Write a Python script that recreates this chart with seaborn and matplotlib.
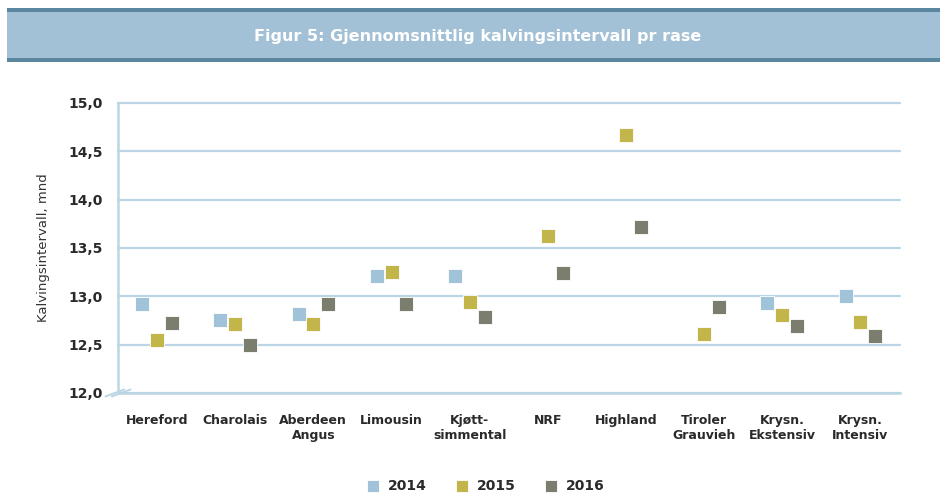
import numpy as np
import pandas as pd
import seaborn as sns
import matplotlib.pyplot as plt
from matplotlib.patches import Rectangle

breeds = ['Hereford', 'Charolais', 'Aberdeen\nAngus', 'Limousin', 'Kjøtt-\nsimmental',
          'NRF', 'Highland', 'Tiroler\nGrauvieh', 'Krysn.\nEkstensiv', 'Krysn.\nIntensiv']
years = ['2014', '2015', '2016']
v2014 = [12.92, 12.75, 12.82, 13.21, 13.21, np.nan, np.nan, np.nan, 12.93, 13.00]
v2015 = [12.55, 12.71, 12.71, 13.25, 12.94, 13.62, 14.67, 12.61, 12.81, 12.73]
v2016 = [12.72, 12.50, 12.92, 12.92, 12.79, 13.24, 13.72, 12.89, 12.69, 12.59]
yticks = [12.0, 12.5, 13.0, 13.5, 14.0, 14.5, 15.0]
colors = ['#a0c3d9', '#c2b54a', '#7b7e6e']

rows = []
for year, vals in zip(years, [v2014, v2015, v2016]):
    for breed, v in zip(breeds, vals):
        rows.append({'rase': breed, 'år': year, 'verdi': v})
df = pd.DataFrame(rows).dropna()

sns.set_theme(style='white')
plt.rcParams['font.family'] = ['DejaVu Sans']

grid_c = '#bcd5e5'
text_c = '#2a2a2a'
fig = plt.figure(figsize=(9.4, 4.94), dpi=100)
ax = fig.add_axes([0.1255, 0.2045, 0.957 - 0.1255, 0.7915 - 0.2045])

# title band
fig.patches.append(Rectangle((0.007, 0.8745), 0.993, 0.1095, transform=fig.transFigure,
                             facecolor='#a3c1d6', edgecolor='none'))
fig.patches.append(Rectangle((0.007, 0.975), 0.993, 0.009, transform=fig.transFigure,
                             facecolor='#5a879f', edgecolor='none'))
fig.patches.append(Rectangle((0.007, 0.8745), 0.993, 0.009, transform=fig.transFigure,
                             facecolor='#5a879f', edgecolor='none'))
fig.text(0.508, 0.926, 'Figur 5: Gjennomsnittlig kalvingsintervall pr rase', color='white',
         fontsize=11.5, fontweight='bold', ha='center', va='center')

sns.pointplot(data=df, x='rase', y='verdi', hue='år', order=breeds, hue_order=years,
              palette=colors, markers='s', linestyle='none', dodge=0.38,
              errorbar=None, markersize=9.5, markeredgewidth=0.6, ax=ax)
for line in ax.lines:
    line.set_markeredgecolor('white')

ax.set_ylim(12.0, 15.0)
ax.set_xlim(-0.5, len(breeds) - 0.5)
ax.set_yticks(yticks)
ax.set_yticklabels([f'{t:.1f}'.replace('.', ',') for t in yticks])
ax.yaxis.grid(True, color=grid_c, linewidth=1.6)
for gl in ax.yaxis.get_gridlines():
    gl.set_clip_on(False)
ax.set_axisbelow(True)

for s in ['top', 'right']:
    ax.spines[s].set_visible(False)
for s in ['left', 'bottom']:
    ax.spines[s].set_color(grid_c)
    ax.spines[s].set_linewidth(1.8)

ax.set_xticks(np.arange(-0.5, len(breeds)), minor=True)
ax.tick_params(axis='x', which='minor', direction='in', length=6, width=1.6, color=grid_c)
ax.tick_params(axis='x', which='major', length=0, pad=15, labelsize=9, labelcolor=text_c)
ax.tick_params(axis='y', length=0, pad=11, labelsize=10, labelcolor=text_c)
for lab in ax.get_xticklabels() + ax.get_yticklabels():
    lab.set_fontweight('bold')
    lab.set_linespacing(1.25)

ax.set_xlabel('')
ax.set_ylabel('Kalvingsintervall, mnd', fontsize=9.5, color='#333333', labelpad=13)

# axis break marks
for dx in (-0.004, 0.004):
    ax.plot([-0.012 + dx, 0.012 + dx], [-0.012, 0.012], transform=ax.transAxes,
            color=grid_c, linewidth=1.4, clip_on=False)

leg = ax.legend(loc='upper center', bbox_to_anchor=(0.47, -0.255), ncol=3, frameon=False,
                fontsize=10, handletextpad=0.6, columnspacing=2.0, markerscale=0.95,
                handlelength=1.0)
for t in leg.get_texts():
    t.set_fontweight('bold')
    t.set_color(text_c)

fig.savefig('out.png', dpi=100)
